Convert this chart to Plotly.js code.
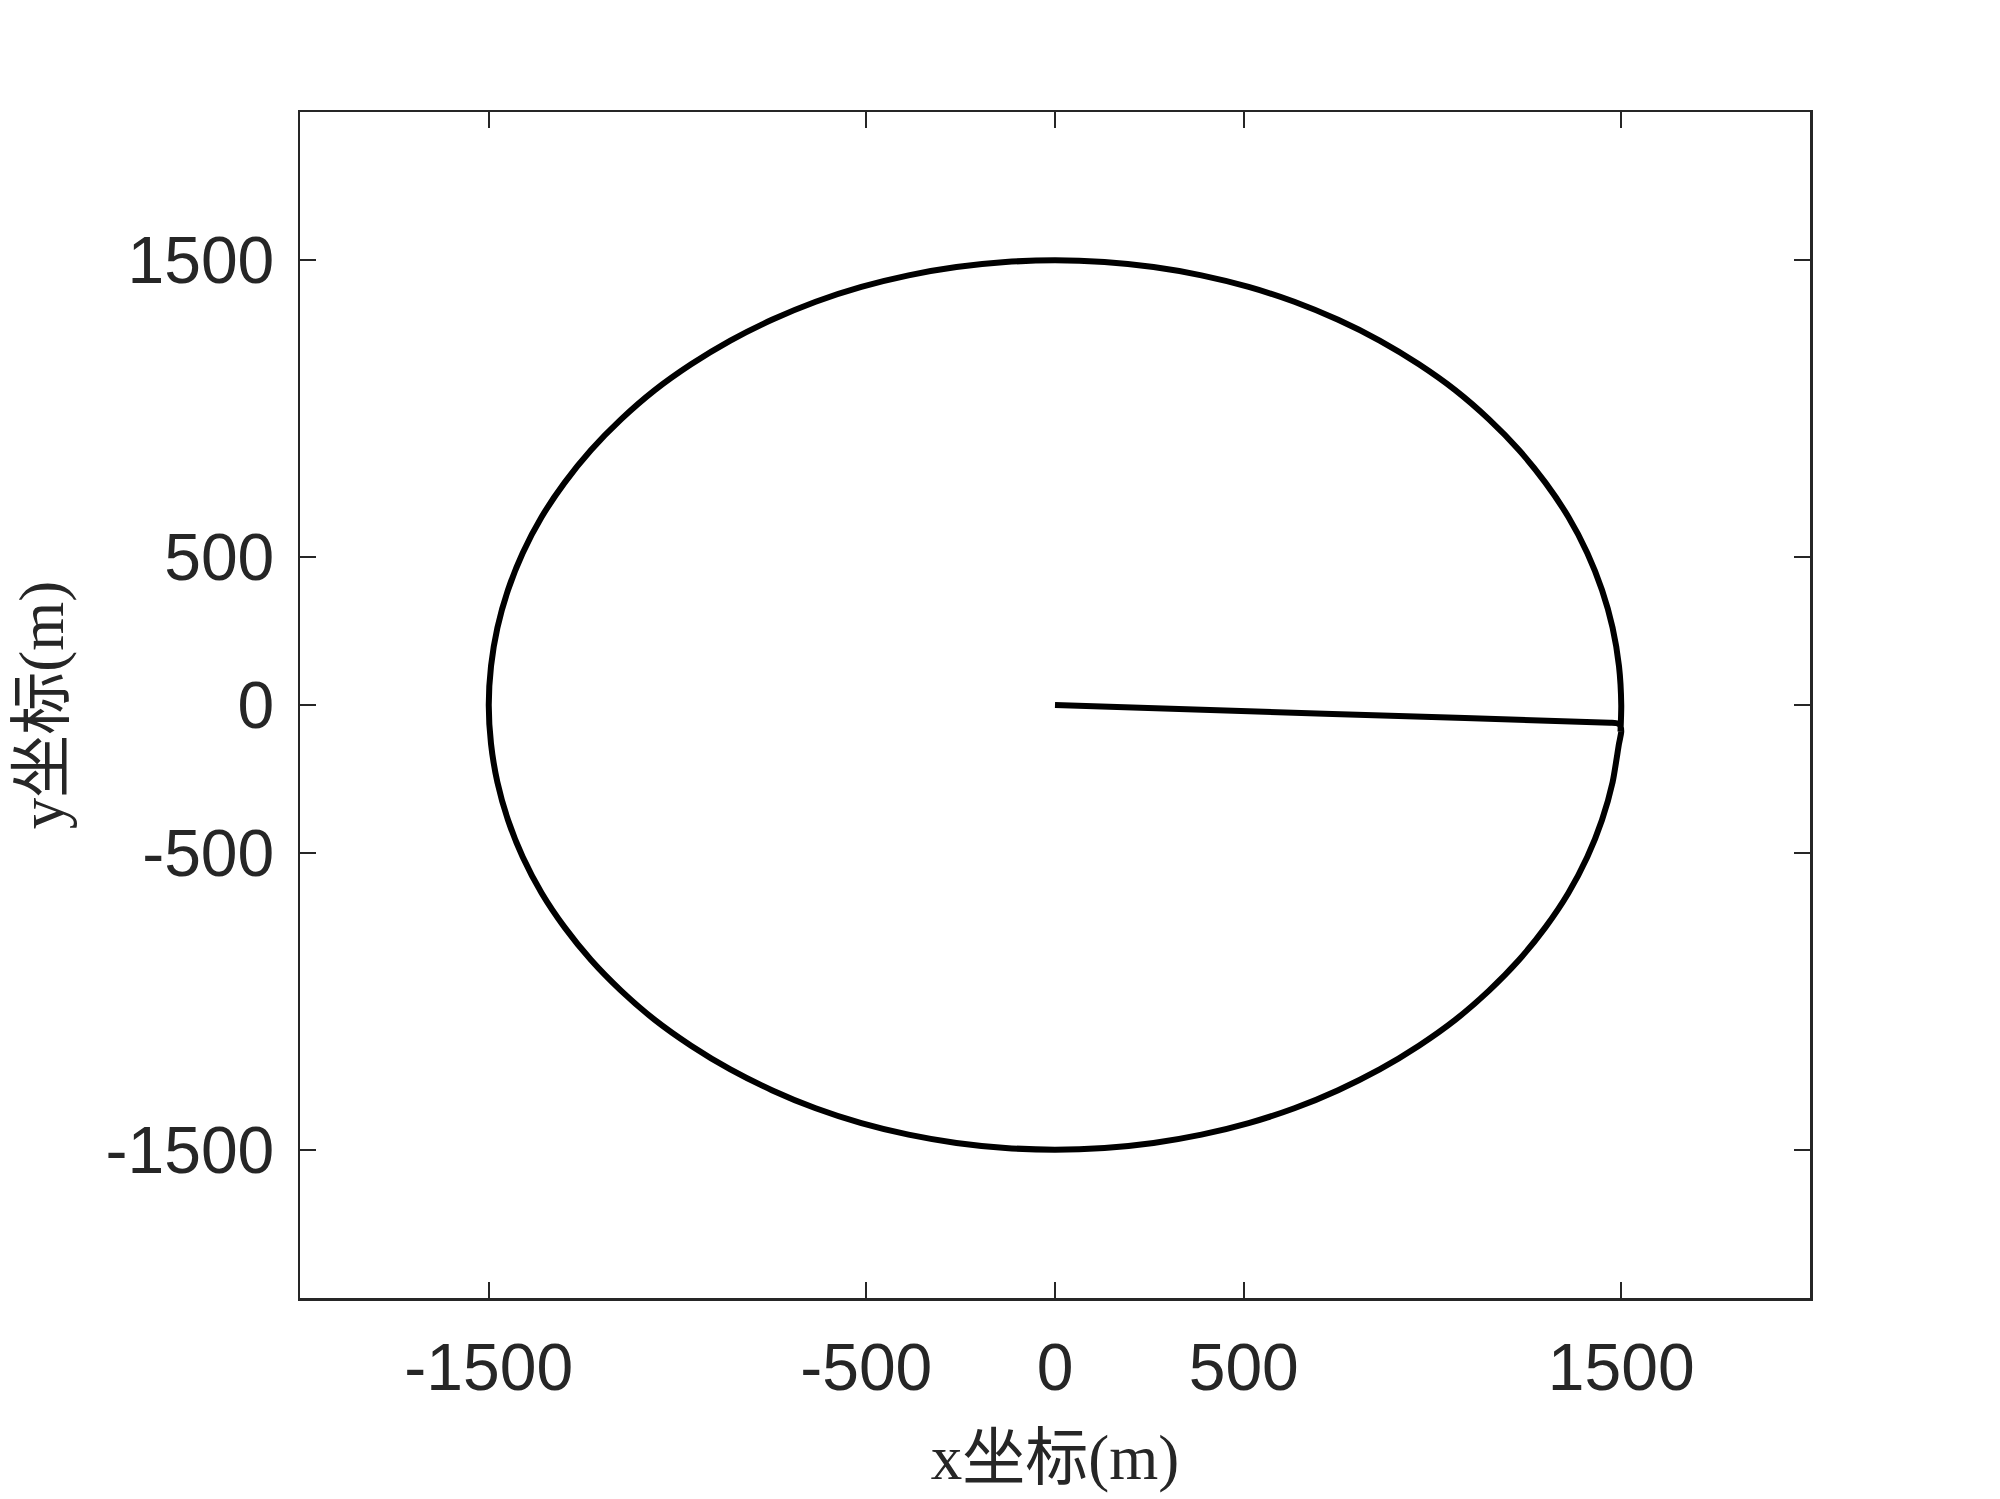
<!DOCTYPE html>
<html>
<head>
<meta charset="utf-8">
<script src="https://cdn.plot.ly/plotly-3.0.1.min.js"></script>
<style>html,body{margin:0;padding:0;background:#fff;}#chart{width:2000px;height:1499px;}</style>
</head>
<body>
<div id="chart"></div>
<script>
// Trajectory: from the origin out to the circle, then once round the circle (clockwise)
const pathX = [0, 735, 1470, 1486, 1494, 1498, 1500,
  1494, 1477, 1449, 1410, 1360, 1299, 1229, 1149, 1061, 964, 860, 750, 634, 513, 388, 261, 131, 0,
  -131, -261, -388, -513, -634, -750, -860, -964, -1061, -1149, -1229, -1299, -1360, -1410, -1449, -1477, -1494, -1500,
  -1494, -1477, -1449, -1410, -1360, -1299, -1229, -1149, -1061, -964, -860, -750, -634, -513, -388, -261, -131, 0,
  131, 261, 388, 513, 634, 750, 860, 964, 1061, 1149, 1229, 1299, 1360, 1410, 1449, 1477, 1494, 1500, 1498];
const pathY = [0, -30, -60, -61, -64, -72, -90,
  -131, -261, -388, -513, -634, -750, -860, -964, -1061, -1149, -1229, -1299, -1360, -1410, -1449, -1477, -1494, -1500,
  -1494, -1477, -1449, -1410, -1360, -1299, -1229, -1149, -1061, -964, -860, -750, -634, -513, -388, -261, -131, 0,
  131, 261, 388, 513, 634, 750, 860, 964, 1061, 1149, 1229, 1299, 1360, 1410, 1449, 1477, 1494, 1500,
  1494, 1477, 1449, 1410, 1360, 1299, 1229, 1149, 1061, 964, 860, 750, 634, 513, 388, 261, 131, 0, -90];

const xTickVals = [-1500, -500, 0, 500, 1500];
const xTickText = ['-1500', '-500', '0', '500', '1500'];
const yTickVals = [-1500, -500, 0, 500, 1500];
const yTickText = ['-1500', '-500', '0', '500', '1500'];
const xRange = [-2000, 2000];
const yRange = [-2000, 2000];
const xTitle = 'x坐标(m)';
const yTitle = 'y坐标(m)';

const axisColor = '#262626';
const tickFont = {family: 'Liberation Sans, Arial, sans-serif', size: 66, color: axisColor};
const titleFont = {family: 'Liberation Serif, Noto Sans CJK SC, serif', size: 63, color: axisColor};

const trace = {
  x: pathX, y: pathY, type: 'scatter', mode: 'lines',
  line: {color: '#000000', width: 6, shape: 'spline', smoothing: 0.6},
  hoverinfo: 'skip', showlegend: false
};

const layout = {
  width: 2000, height: 1499,
  paper_bgcolor: '#ffffff', plot_bgcolor: '#ffffff',
  margin: {l: 300, r: 190, t: 112, b: 201, pad: 0},
  showlegend: false,
  xaxis: {
    range: xRange, tickmode: 'array', tickvals: xTickVals, ticktext: xTickText,
    ticks: 'inside', ticklen: 16, tickwidth: 2, tickcolor: axisColor,
    showline: true, linecolor: axisColor, linewidth: 2.5, mirror: 'ticks',
    showgrid: false, zeroline: false, tickfont: tickFont, ticklabelstandoff: 10,
    title: {text: xTitle, font: titleFont, standoff: 32}
  },
  yaxis: {
    range: yRange, tickmode: 'array', tickvals: yTickVals, ticktext: yTickText,
    ticks: 'inside', ticklen: 16, tickwidth: 2, tickcolor: axisColor,
    showline: true, linecolor: axisColor, linewidth: 2.5, mirror: 'ticks',
    showgrid: false, zeroline: false, tickfont: tickFont, ticklabelstandoff: 10,
    title: {text: yTitle, font: titleFont, standoff: 22}
  }
};

Plotly.newPlot('chart', [trace], layout, {displayModeBar: false, staticPlot: true});
</script>
</body>
</html>
